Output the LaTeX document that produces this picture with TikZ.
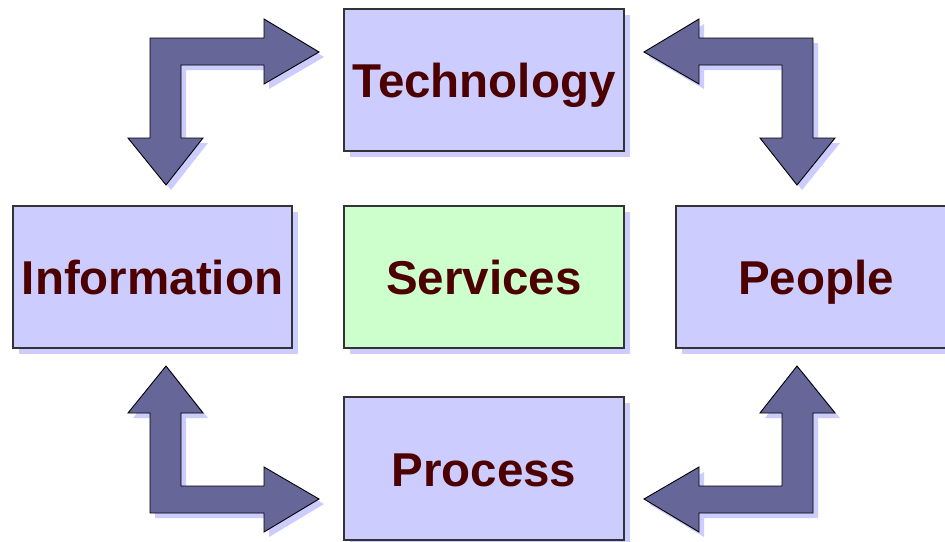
\documentclass[tikz,border=0pt]{standalone}
\usepackage{fontspec}
\setmainfont{Liberation Sans}
\usetikzlibrary{shadows}
\definecolor{boxblue}{HTML}{CCCCFF}
\definecolor{boxgreen}{HTML}{CCFFCC}
\definecolor{shadowcol}{HTML}{CCCCFF}
\definecolor{arrowcol}{HTML}{666699}
\definecolor{textcol}{HTML}{4D0000}
\definecolor{bordercol}{HTML}{333333}
\tikzset{
  box/.style={draw=bordercol, line width=1.1pt, fill=boxblue,
    minimum width=280pt, minimum height=142pt, inner sep=0pt,
    text height=35pt, text depth=0pt,
    text=textcol, font=\fontsize{47.5}{50}\selectfont\bfseries,
    drop shadow={shadow xshift=6pt, shadow yshift=-6pt, fill=shadowcol, opacity=1}},
  greenbox/.style={box, fill=boxgreen},
  pics/elbowshape/.style={code={
    \path[pic actions] (-331.5,-237.5) -- (-217.5,-237.5) -- (-217.5,-256.5)
      -- (-162.5,-223.5) -- (-217.5,-191.5) -- (-217.5,-210.5) -- (-300.5,-210.5)
      -- (-300.5,-137.5) -- (-278.5,-137.5) -- (-315.5,-90.5) -- (-353.5,-137.5)
      -- (-331.5,-137.5) -- cycle;
  }},
  arrowshadow/.style={fill=shadowcol},
  arrowbody/.style={fill=arrowcol, draw=black, line width=0.9pt, line join=miter},
}
\begin{document}
\begin{tikzpicture}[x=1pt, y=-1pt]
\clip (0,0) rectangle (945,541);
\fill[white] (0,0) rectangle (945,541);
% block arrows
\coordinate (ctr) at (481.5,275.5);
\coordinate (ctrs) at (486.5,280.5);
\pic[arrowshadow] at (ctrs) {elbowshape};
\pic[arrowshadow, xscale=-1] at (ctrs) {elbowshape};
\pic[arrowshadow, yscale=-1] at (ctrs) {elbowshape};
\pic[arrowshadow, xscale=-1, yscale=-1] at (ctrs) {elbowshape};
\pic[arrowbody] at (ctr) {elbowshape};
\pic[arrowbody, xscale=-1] at (ctr) {elbowshape};
\pic[arrowbody, yscale=-1] at (ctr) {elbowshape};
\pic[arrowbody, xscale=-1, yscale=-1] at (ctr) {elbowshape};
% boxes
\node[box] (tech) at (484,80) {Technology};
\node[greenbox] (serv) at (484,277) {Services};
\node[box, minimum width=279pt] (info) at (152.5,277) {Information};
\node[box] (people) at (816,277) {People};
\node[box, minimum height=143pt] (proc) at (484,468.5) {Process};
\end{tikzpicture}
\end{document}
